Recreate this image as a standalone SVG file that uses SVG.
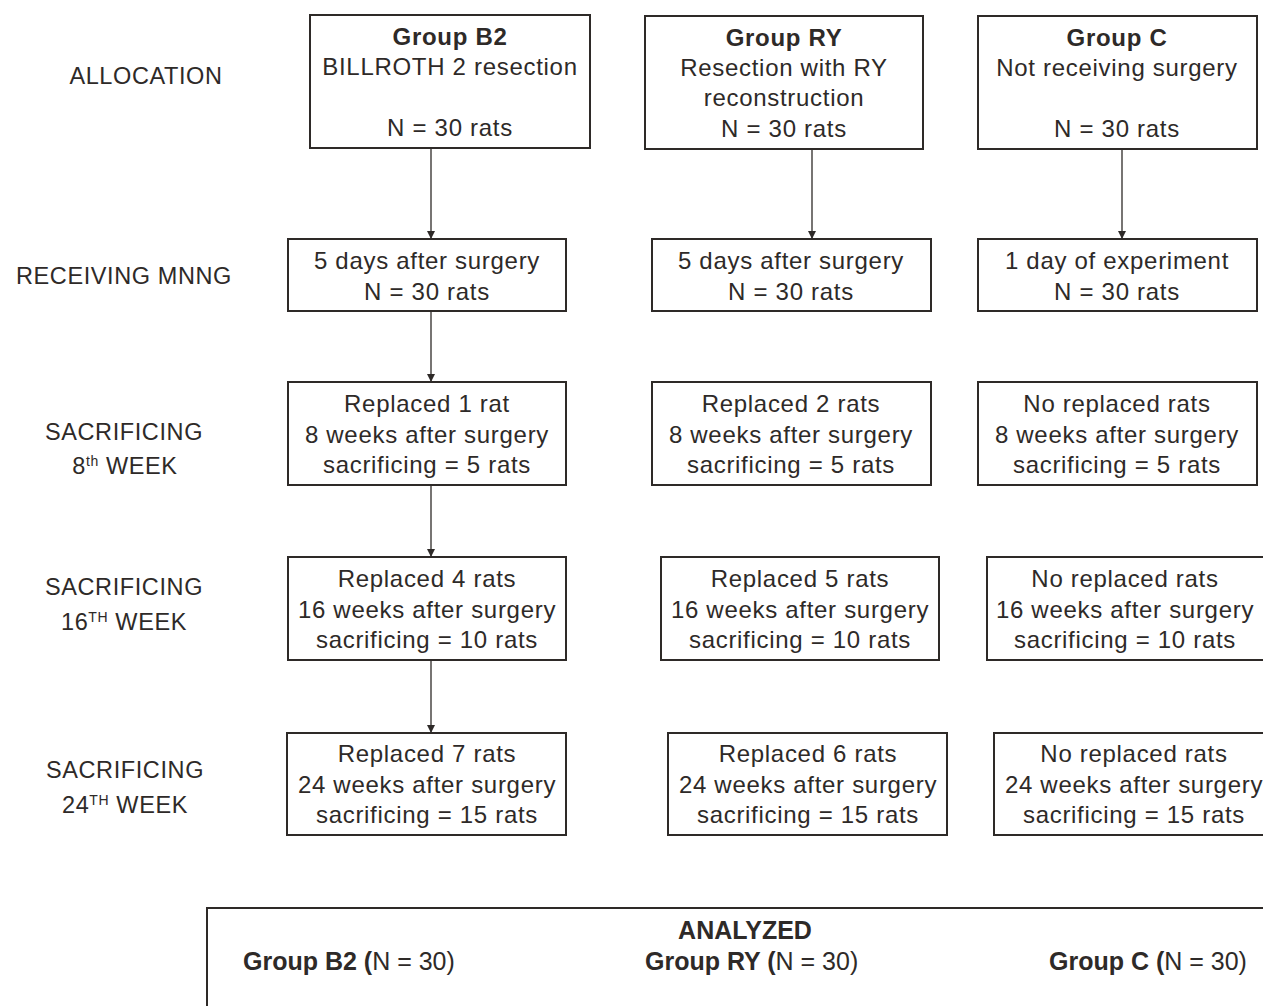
<svg xmlns="http://www.w3.org/2000/svg" width="1263" height="1006" viewBox="0 0 1263 1006">
<style>
.box{fill:#fff;stroke:#2e2a28;stroke-width:2}
.t{font-family:"Liberation Sans",Arial,sans-serif;font-size:24px;fill:#2e2a28;letter-spacing:0.7px;text-anchor:middle}
.b{font-weight:bold}
.lbl{font-family:"Liberation Sans",Arial,sans-serif;font-size:23.5px;fill:#2e2a28;letter-spacing:0.6px;text-anchor:middle}
.an{font-family:"Liberation Sans",Arial,sans-serif;font-size:25px;fill:#2e2a28}
.conn{stroke:#2e2a28;stroke-width:1.3;fill:none}
</style>
<defs>
<marker id="ah" viewBox="0 0 10 10" refX="10" refY="5" markerWidth="8" markerHeight="8" markerUnits="userSpaceOnUse" orient="auto">
<path d="M0,0 L10,5 L0,10 z" fill="#2e2a28"/>
</marker>
</defs>
<rect width="1263" height="1006" fill="#fff"/>

<g id="labels">
<text class="lbl" x="146" y="84">ALLOCATION</text>
<text class="lbl" x="124" y="284">RECEIVING  MNNG</text>
<text class="lbl" x="124" y="440">SACRIFICING</text>
<text class="lbl" x="125" y="474">8<tspan font-size="14" dy="-8">th</tspan><tspan dy="8"> WEEK</tspan></text>
<text class="lbl" x="124" y="595">SACRIFICING</text>
<text class="lbl" x="124" y="630">16<tspan font-size="14" dy="-8">TH</tspan><tspan dy="8"> WEEK</tspan></text>
<text class="lbl" x="125" y="778">SACRIFICING</text>
<text class="lbl" x="125" y="813">24<tspan font-size="14" dy="-8">TH</tspan><tspan dy="8"> WEEK</tspan></text>
</g>

<g id="connectors">
<line class="conn" x1="431" y1="149" x2="431" y2="239" marker-end="url(#ah)"/>
<line class="conn" x1="812" y1="150" x2="812" y2="239" marker-end="url(#ah)"/>
<line class="conn" x1="1122" y1="150" x2="1122" y2="239" marker-end="url(#ah)"/>
<line class="conn" x1="431" y1="312" x2="431" y2="382" marker-end="url(#ah)"/>
<line class="conn" x1="431" y1="486" x2="431" y2="557" marker-end="url(#ah)"/>
<line class="conn" x1="431" y1="661" x2="431" y2="733" marker-end="url(#ah)"/>
</g>

<g id="b2-alloc">
<rect class="box" x="310" y="15" width="280" height="133"/>
<text class="t b" x="450" y="45">Group B2</text>
<text class="t" x="450" y="75">BILLROTH 2 resection</text>
<text class="t" x="450" y="136">N = 30 rats</text>
</g>
<g id="ry-alloc">
<rect class="box" x="645" y="16" width="278" height="133"/>
<text class="t b" x="784" y="46">Group RY</text>
<text class="t" x="784" y="76">Resection with RY</text>
<text class="t" x="784" y="106">reconstruction</text>
<text class="t" x="784" y="137">N = 30 rats</text>
</g>
<g id="c-alloc">
<rect class="box" x="978" y="16" width="279" height="133"/>
<text class="t b" x="1117" y="46">Group C</text>
<text class="t" x="1117" y="76">Not receiving surgery</text>
<text class="t" x="1117" y="137">N = 30 rats</text>
</g>

<g id="b2-mnng">
<rect class="box" x="288" y="239" width="278" height="72"/>
<text class="t" x="427" y="269">5 days after surgery</text>
<text class="t" x="427" y="300">N = 30 rats</text>
</g>
<g id="ry-mnng">
<rect class="box" x="652" y="239" width="279" height="72"/>
<text class="t" x="791" y="269">5 days after surgery</text>
<text class="t" x="791" y="300">N = 30 rats</text>
</g>
<g id="c-mnng">
<rect class="box" x="978" y="239" width="279" height="72"/>
<text class="t" x="1117" y="269">1 day of experiment</text>
<text class="t" x="1117" y="300">N = 30 rats</text>
</g>

<g id="b2-w8">
<rect class="box" x="288" y="382" width="278" height="103"/>
<text class="t" x="427" y="412">Replaced 1 rat</text>
<text class="t" x="427" y="443">8 weeks after surgery</text>
<text class="t" x="427" y="473">sacrificing = 5 rats</text>
</g>
<g id="ry-w8">
<rect class="box" x="652" y="382" width="279" height="103"/>
<text class="t" x="791" y="412">Replaced 2 rats</text>
<text class="t" x="791" y="443">8 weeks after surgery</text>
<text class="t" x="791" y="473">sacrificing = 5 rats</text>
</g>
<g id="c-w8">
<rect class="box" x="978" y="382" width="279" height="103"/>
<text class="t" x="1117" y="412">No replaced rats</text>
<text class="t" x="1117" y="443">8 weeks after surgery</text>
<text class="t" x="1117" y="473">sacrificing = 5 rats</text>
</g>

<g id="b2-w16">
<rect class="box" x="288" y="557" width="278" height="103"/>
<text class="t" x="427" y="587">Replaced 4 rats</text>
<text class="t" x="427" y="618">16 weeks after surgery</text>
<text class="t" x="427" y="648">sacrificing = 10 rats</text>
</g>
<g id="ry-w16">
<rect class="box" x="661" y="557" width="278" height="103"/>
<text class="t" x="800" y="587">Replaced 5 rats</text>
<text class="t" x="800" y="618">16 weeks after surgery</text>
<text class="t" x="800" y="648">sacrificing = 10 rats</text>
</g>
<g id="c-w16">
<rect class="box" x="987" y="557" width="280" height="103"/>
<text class="t" x="1125" y="587">No replaced rats</text>
<text class="t" x="1125" y="618">16 weeks after surgery</text>
<text class="t" x="1125" y="648">sacrificing = 10 rats</text>
</g>

<g id="b2-w24">
<rect class="box" x="287" y="733" width="279" height="102"/>
<text class="t" x="427" y="762">Replaced 7 rats</text>
<text class="t" x="427" y="793">24 weeks after surgery</text>
<text class="t" x="427" y="823">sacrificing = 15 rats</text>
</g>
<g id="ry-w24">
<rect class="box" x="668" y="733" width="279" height="102"/>
<text class="t" x="808" y="762">Replaced 6 rats</text>
<text class="t" x="808" y="793">24 weeks after surgery</text>
<text class="t" x="808" y="823">sacrificing = 15 rats</text>
</g>
<g id="c-w24">
<rect class="box" x="994" y="733" width="280" height="102"/>
<text class="t" x="1134" y="762">No replaced rats</text>
<text class="t" x="1134" y="793">24 weeks after surgery</text>
<text class="t" x="1134" y="823">sacrificing = 15 rats</text>
</g>

<g id="analyzed">
<rect class="box" x="207" y="908" width="1080" height="120"/>
<text class="an" x="745" y="939" font-weight="bold" text-anchor="middle">ANALYZED</text>
<text class="an" x="243" y="970"><tspan font-weight="bold">Group B2 (</tspan>N = 30)</text>
<text class="an" x="645" y="970"><tspan font-weight="bold">Group RY (</tspan>N = 30)</text>
<text class="an" x="1049" y="970"><tspan font-weight="bold">Group C (</tspan>N = 30)</text>
</g>
</svg>
